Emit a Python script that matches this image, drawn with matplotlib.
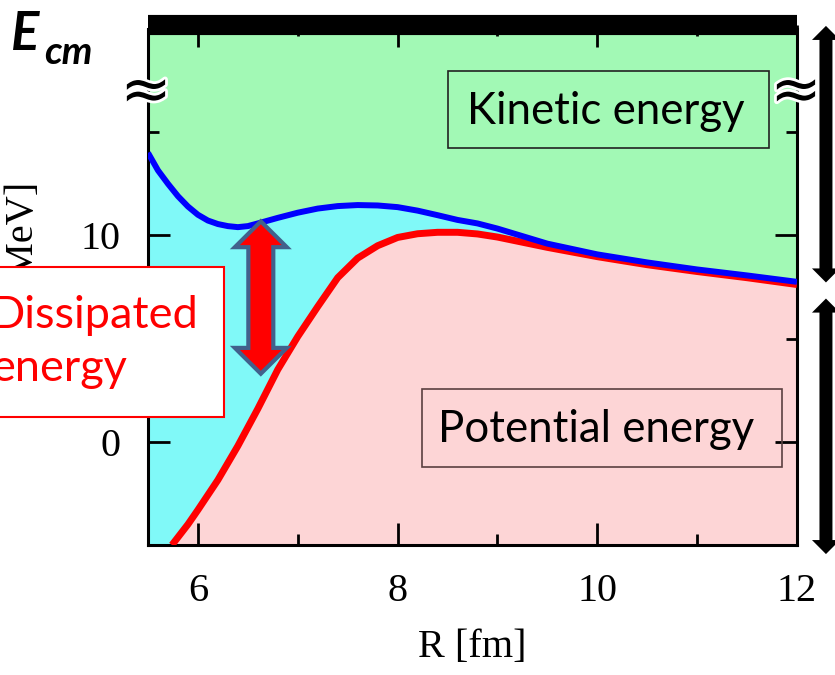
import matplotlib
matplotlib.use("Agg")
import matplotlib.pyplot as plt
from matplotlib.patches import Polygon, Rectangle
import matplotlib.patheffects as pe

plt.rcParams["font.family"] = "Liberation Serif"

# radial distance R [fm] and energies [MeV]
r_total = [5.5, 5.6, 5.7, 5.8, 5.9, 6.0, 6.1, 6.2, 6.3, 6.4, 6.5, 6.6, 6.8, 7.0, 7.2,
           7.4, 7.6, 7.8, 8.0, 8.2, 8.4, 8.6, 8.8, 9.0, 9.5, 10.0, 10.5, 11.0, 11.5, 12.0]
e_total = [14.0, 13.15, 12.5, 11.9, 11.4, 11.0, 10.72, 10.55, 10.45, 10.4, 10.45, 10.58, 10.85, 11.1, 11.3,
           11.42, 11.47, 11.45, 11.37, 11.2, 10.98, 10.75, 10.58, 10.33, 9.6, 9.08, 8.69, 8.35, 8.06, 7.75]

r_pot = [5.74, 5.9, 6.0, 6.2, 6.4, 6.6, 6.8, 7.0, 7.2, 7.4, 7.6, 7.8, 8.0, 8.2, 8.4,
         8.6, 8.8, 9.0, 9.5, 10.0, 10.5, 11.0, 11.5, 12.0]
e_pot = [-5.0, -4.0, -3.3, -1.85, -0.2, 1.6, 3.5, 5.1, 6.55, 7.95, 8.9, 9.5, 9.9, 10.08, 10.15,
         10.15, 10.07, 9.92, 9.42, 8.97, 8.58, 8.25, 7.95, 7.62]

xticks = [6, 8, 10, 12]
yticks = [0, 10]

YMIN, YMAX = -5, 20
GREEN = "#a2f9b5"
CYAN = "#80f9f8"
PINK = "#fdd5d6"
SANS = "Lato"


def double_arrow(ax, x, y0, y1, shaft, head, head_len, **kw):
    pts = [(x, y1), (x + head / 2, y1 - head_len), (x + shaft / 2, y1 - head_len),
           (x + shaft / 2, y0 + head_len), (x + head / 2, y0 + head_len), (x, y0),
           (x - head / 2, y0 + head_len), (x - shaft / 2, y0 + head_len),
           (x - shaft / 2, y1 - head_len), (x - head / 2, y1 - head_len)]
    p = Polygon(pts, closed=True, **kw)
    ax.add_patch(p)
    return p


fig = plt.figure(figsize=(8.35, 6.75), dpi=100)
ax = fig.add_axes([148 / 835, 1 - 545 / 675, (797 - 148) / 835, (545 - 29) / 675])

ax.set_facecolor(GREEN)
ax.fill_between(r_total, YMIN, e_total, color=CYAN, lw=0, zorder=1)
ax.fill_between(r_pot, YMIN, e_pot, color=PINK, lw=0, zorder=1)
ax.plot(r_pot, e_pot, color="red", lw=5, zorder=3, solid_capstyle="butt")
ax.plot(r_total, e_total, color="blue", lw=4.3, zorder=4, solid_capstyle="butt")

ax.set_xlim(5.5, 12)
ax.set_ylim(YMIN, YMAX)
ax.set_xticks(xticks)
ax.set_xticks([7, 9, 11], minor=True)
ax.set_yticks(yticks)
ax.set_yticks([5, 15], minor=True)
ax.tick_params(which="both", direction="in", top=True, right=True, width=2, zorder=5)
ax.tick_params(which="major", length=16, pad=20, labelsize=29)
ax.tick_params(which="minor", length=8)

for side in ["left", "right", "bottom"]:
    ax.spines[side].set_linewidth(2.2)
ax.spines["top"].set_linewidth(14.5)
ax.spines["top"].set_capstyle("butt")
ax.spines["top"].set_position(("outward", 3))

ax.set_xlabel("R [fm]", fontsize=29, labelpad=14)
ax.set_ylabel("Energy [MeV]", fontsize=29)
ax.yaxis.set_label_coords(-(148 - 42) / 649, (545 - 299) / 516)

# axis break marks
for xb in [5.48, 11.99]:
    ax.text(xb, 16.9, "\u2248", fontsize=44, ha="center", va="center", clip_on=False,
            family="DejaVu Sans", zorder=10,
            path_effects=[pe.withStroke(linewidth=4, foreground="white")])

# dissipated energy arrow
double_arrow(ax, 6.63, 3.3, 10.68, 0.25, 0.52, 1.25,
             facecolor="red", edgecolor="#41618c", lw=3, zorder=6, joinstyle="miter")

# kinetic / potential energy ranges on the right
double_arrow(ax, 12.29, 7.72, 20.15, 0.13, 0.28, 0.68, color="black", lw=0, clip_on=False, zorder=6)
double_arrow(ax, 12.29, -5.44, 6.94, 0.13, 0.28, 0.68, color="black", lw=0, clip_on=False, zorder=6)

ax.add_patch(Rectangle((8.5, 14.22), 3.22, 3.74, fill=False, edgecolor="#222222", lw=1.2, zorder=6))
ax.text(10.08, 16.0, "Kinetic energy", fontsize=31.5, family=SANS, ha="center", va="center", zorder=7)
ax.add_patch(Rectangle((8.24, -1.21), 3.61, 3.78, fill=False, edgecolor="#5a4040", lw=1.2, zorder=6))
ax.text(9.99, 0.6, "Potential energy", fontsize=31.5, family=SANS, ha="center", va="center", zorder=7)

# dissipated energy label, sits across the left axis
fig.patches.append(Rectangle((-0.02, 1 - 417 / 675), 0.02 + 224 / 835, 150 / 675,
                             transform=fig.transFigure, facecolor="white", edgecolor="red",
                             lw=1.5, zorder=10))
fig.text(-9 / 835, 1 - 328 / 675, "Dissipated", color="red", fontsize=32.5, family=SANS, zorder=11)
fig.text(-9 / 835, 1 - 381 / 675, "energy", color="red", fontsize=32.5, family=SANS, zorder=11)

fig.text(11 / 835, 1 - 50 / 675, "E", fontsize=38, family=SANS, fontweight="bold", style="italic")
fig.text(44 / 835, 1 - 64 / 675, "cm", fontsize=28, family=SANS, fontweight="bold", style="italic")

fig.savefig("out.png", dpi=100)
